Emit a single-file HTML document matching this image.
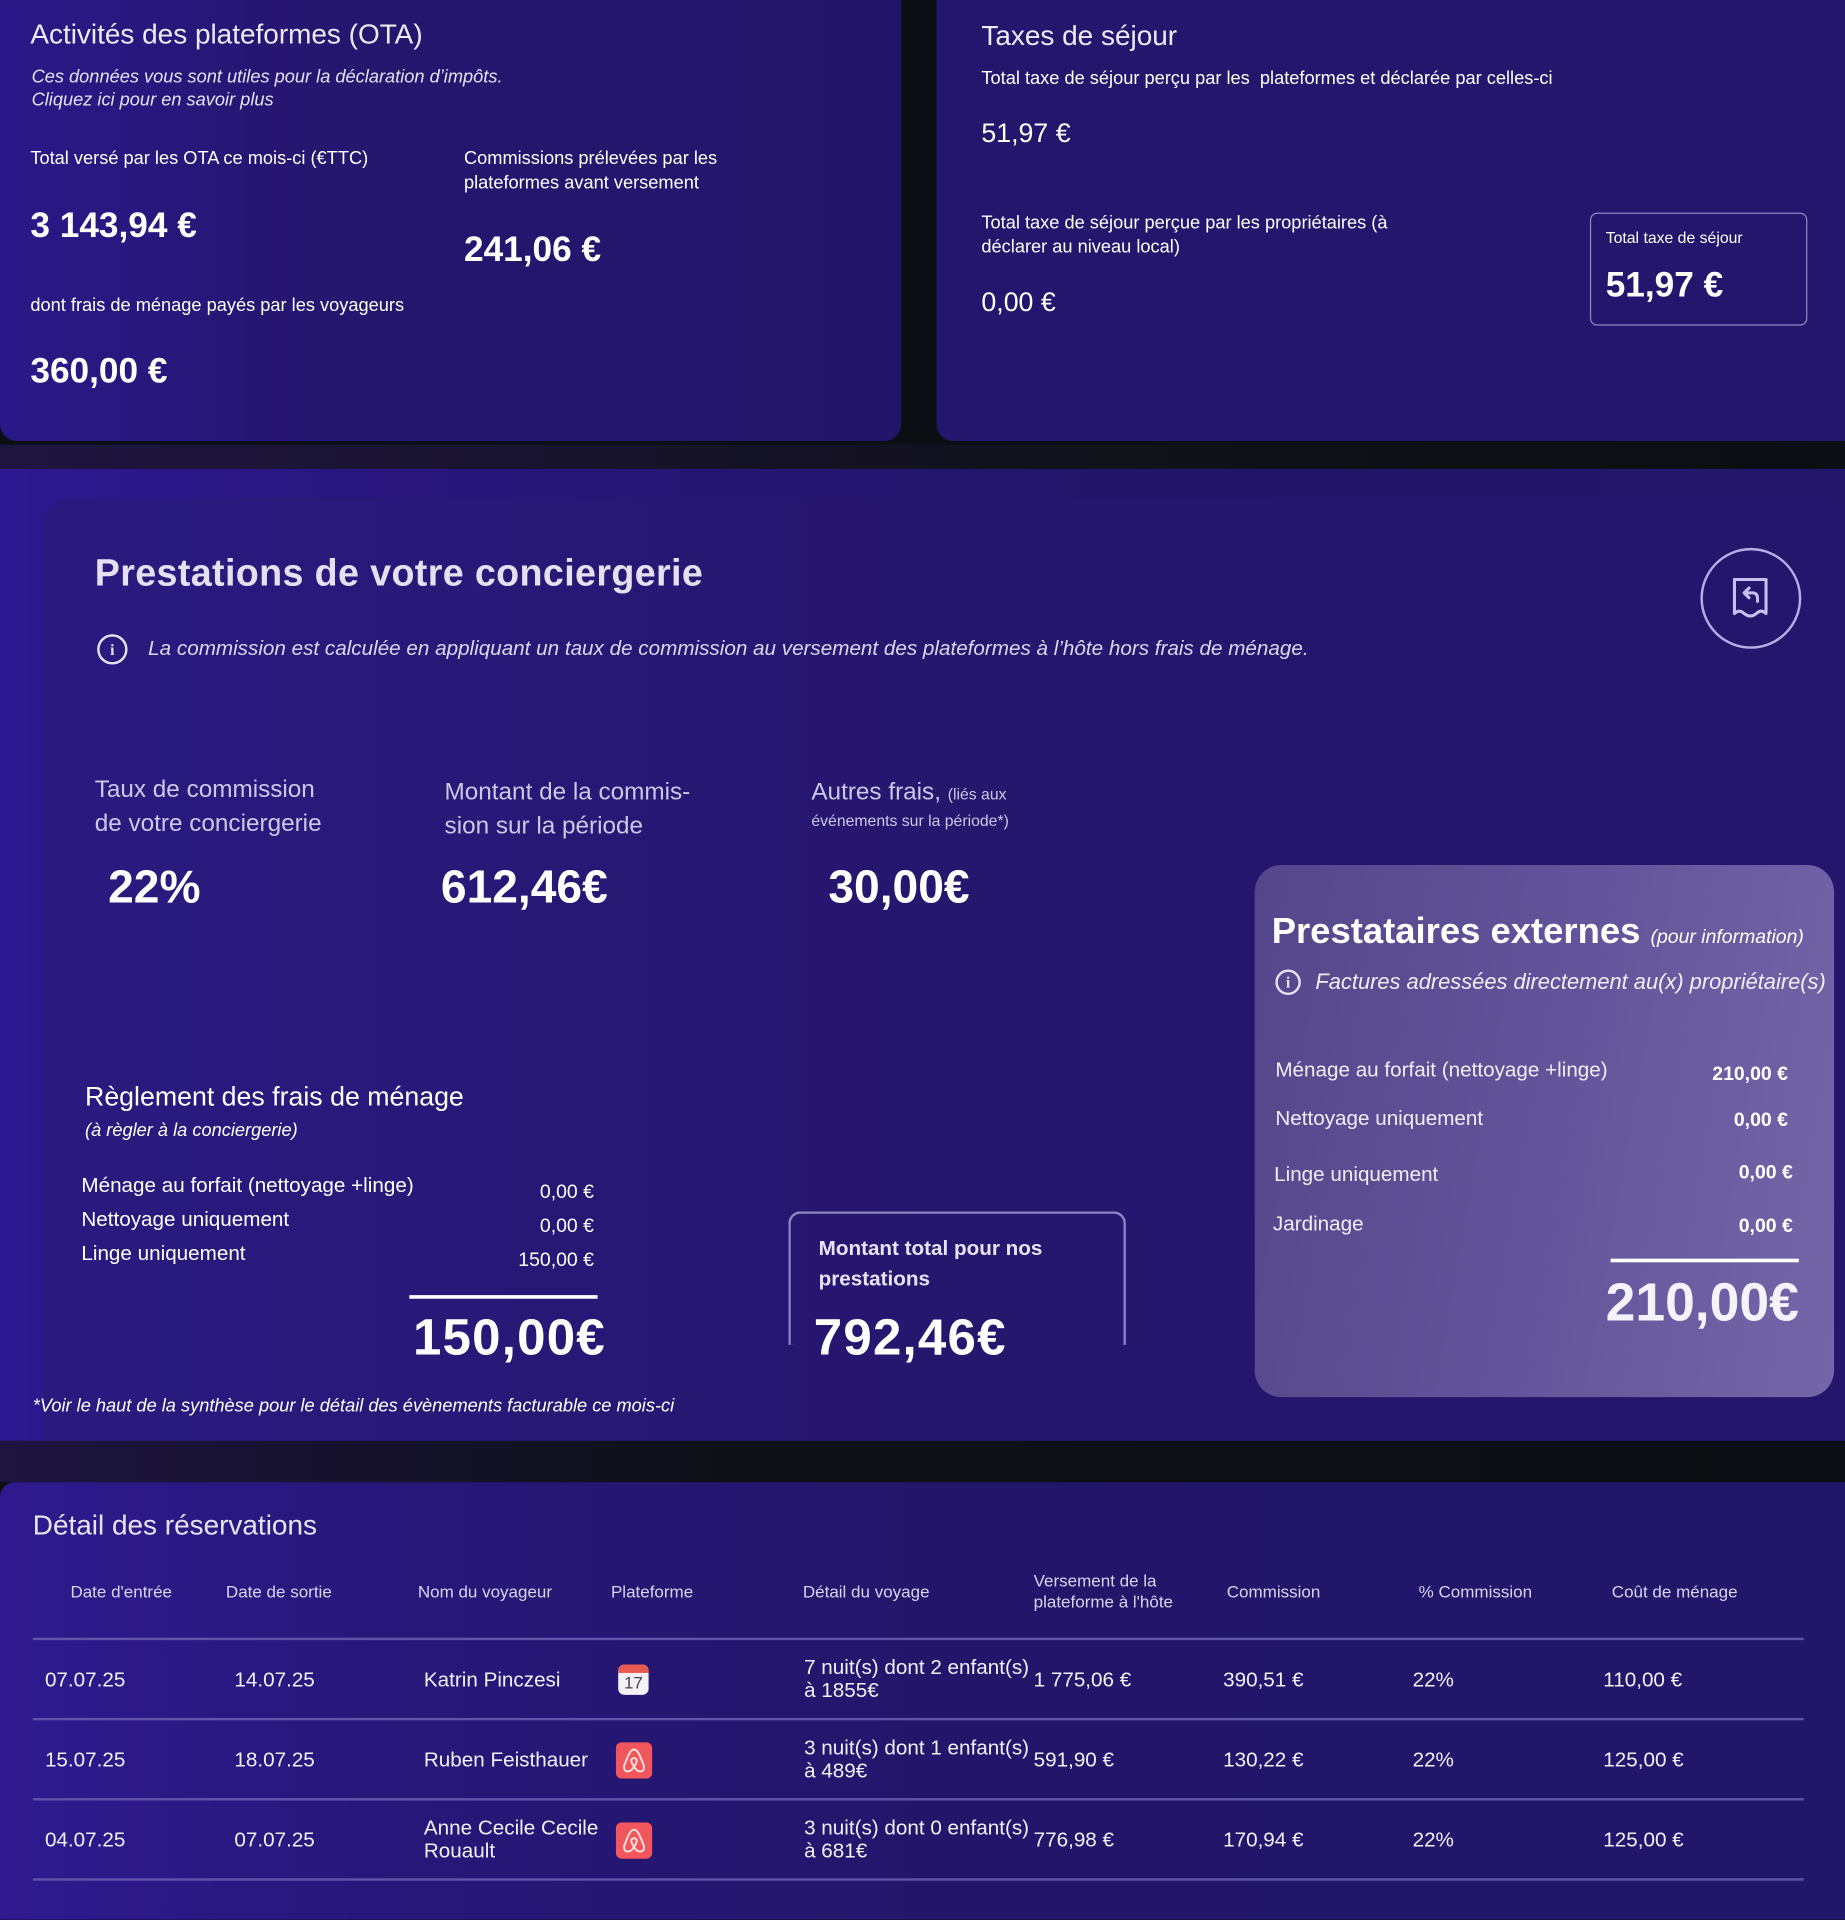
<!DOCTYPE html>
<html><head><meta charset="utf-8">
<style>
*{margin:0;padding:0;box-sizing:border-box}
html,body{width:1845px;height:1905px;overflow:hidden;background:#0b0e12}
#w{position:absolute;left:0;top:0;width:1519px;height:1568px;transform:scale(1.21461,1.21492);transform-origin:0 0;font-family:"Liberation Sans",sans-serif;color:#fff}
.a{position:absolute}
.t{position:absolute;white-space:nowrap;line-height:1}
.c{background:linear-gradient(90deg,#2a1888 0%,#25166f 35%,#23166a 100%)}
.i{font-style:italic}
.b{font-weight:bold}
.r{text-align:right}
.ic{position:absolute;border:2px solid #e8e4f6;border-radius:50%;}
.ic:after{content:"i";position:absolute;left:0;right:0;top:50%;transform:translateY(-50%);text-align:center;font-weight:bold;font-size:13px;color:#e8e4f6;font-family:"Liberation Serif",serif}
.hd{font-size:14px;color:#d8d4ee}
.rw{font-size:17px;color:#f2f0fa}
.ln{position:absolute;left:27px;width:1458px;height:2px;background:#5f54a8}
</style></head><body><div id="w">

<div class="a c" style="left:0;top:-12px;width:742px;height:375px;border-radius:14px"></div>
<div class="a" style="left:771px;top:-12px;width:760px;height:375px;border-radius:14px;background:#25166d"></div>

<div class="t" style="left:25px;top:17px;font-size:23px;color:#eeeaf8">Activités des plateformes (OTA)</div>
<div class="t i" style="left:26px;top:56px;font-size:15px;color:#e6e2f4">Ces données vous sont utiles pour la déclaration d’impôts.</div>
<div class="t i" style="left:26px;top:75px;font-size:15px;color:#e6e2f4">Cliquez ici pour en savoir plus</div>
<div class="t" style="left:25px;top:123px;font-size:15px">Total versé par les OTA ce mois-ci (€TTC)</div>
<div class="t b" style="left:25px;top:172px;font-size:29px">3 143,94 €</div>
<div class="t" style="left:382px;top:123px;font-size:15px">Commissions prélevées par les</div>
<div class="t" style="left:382px;top:143px;font-size:15px">plateformes avant versement</div>
<div class="t b" style="left:382px;top:192px;font-size:29px">241,06 €</div>
<div class="t" style="left:25px;top:244px;font-size:15px">dont frais de ménage payés par les voyageurs</div>
<div class="t b" style="left:25px;top:292px;font-size:29px">360,00 €</div>

<div class="t" style="left:808px;top:18px;font-size:23px;color:#eeeaf8">Taxes de séjour</div>
<div class="t" style="left:808px;top:57px;font-size:15px">Total taxe de séjour perçu par les &nbsp;plateformes et déclarée par celles-ci</div>
<div class="t" style="left:808px;top:99px;font-size:22px">51,97 €</div>
<div class="t" style="left:808px;top:176px;font-size:15px">Total taxe de séjour perçue par les propriétaires (à</div>
<div class="t" style="left:808px;top:196px;font-size:15px">déclarer au niveau local)</div>
<div class="t" style="left:808px;top:238px;font-size:22px">0,00 €</div>
<div class="a" style="left:1309px;top:175px;width:179px;height:93px;border:1px solid #8f86c6;border-radius:6px"></div>
<div class="t" style="left:1322px;top:189px;font-size:13px">Total taxe de séjour</div>
<div class="t b" style="left:1322px;top:221px;font-size:29px">51,97 €</div>

<div class="a" style="left:0;top:366px;width:1519px;height:20px;background:linear-gradient(90deg,#1e1440 0%,#11121a 60%,#0b0e12 100%)"></div>
<div class="a" style="left:0;top:386px;width:1519px;height:800px;background:linear-gradient(90deg,#2c1890 0%,#27167a 25%,#23166a 60%,#23166b 100%)"></div>
<div class="a" style="left:35px;top:410px;width:1484px;height:776px;border-radius:22px 22px 0 0;background:linear-gradient(90deg,#2a1a80,#25166e 50%,#24166c)"></div>

<div class="t" style="left:78px;top:456px;font-size:31px;font-weight:bold;color:#e4e0f0;letter-spacing:0.3px">Prestations de votre conciergerie</div>
<div class="ic" style="left:80px;top:522px;width:25px;height:25px"></div>
<div class="t i" style="left:122px;top:525px;font-size:17px;color:#dcd8f0">La commission est calculée en appliquant un taux de commission au versement des plateformes à l’hôte hors frais de ménage.</div>

<div class="a" style="left:1400px;top:451px;width:83px;height:83px;border:2px solid #b7aee6;border-radius:50%"></div>
<svg class="a" style="left:1424px;top:474px" width="34" height="36" viewBox="0 0 34 36"><path d="M4 3 H30 V31 Q26 27 22 31 Q17 35 12 31 Q8 27 4 31 Z" fill="none" stroke="#c8c0f0" stroke-width="2.5" stroke-linejoin="round"/><path d="M12 14 L16 10 M12 14 L16 18 M12 14 H19 Q23 14 23 19 V21" fill="none" stroke="#c8c0f0" stroke-width="2.5" stroke-linecap="round"/></svg>

<div class="t" style="left:78px;top:640px;font-size:20px;color:#cdc8e8">Taux de commission</div>
<div class="t" style="left:78px;top:668px;font-size:20px;color:#cdc8e8">de votre conciergerie</div>
<div class="t b" style="left:89px;top:712px;font-size:38px">22%</div>
<div class="t" style="left:366px;top:642px;font-size:20px;color:#cdc8e8">Montant de la commis-</div>
<div class="t" style="left:366px;top:670px;font-size:20px;color:#cdc8e8">sion sur la période</div>
<div class="t b" style="left:363px;top:712px;font-size:38px">612,46€</div>
<div class="t" style="left:668px;top:642px;font-size:20px;color:#cdc8e8">Autres frais, <span style="font-size:13px">(liés aux</span></div>
<div class="t" style="left:668px;top:669px;font-size:13px;color:#cdc8e8">événements sur la période*)</div>
<div class="t b" style="left:682px;top:712px;font-size:38px">30,00€</div>

<div class="t" style="left:70px;top:892px;font-size:22px">Règlement des frais de ménage</div>
<div class="t i" style="left:70px;top:923px;font-size:15px">(à règler à la conciergerie)</div>
<div class="t" style="left:67px;top:967px;font-size:17px">Ménage au forfait (nettoyage +linge)</div>
<div class="t" style="left:67px;top:995px;font-size:17px">Nettoyage uniquement</div>
<div class="t" style="left:67px;top:1023px;font-size:17px">Linge uniquement</div>
<div class="t r" style="left:389px;width:100px;top:974px;font-size:16px">0,00 €</div>
<div class="t r" style="left:389px;width:100px;top:1002px;font-size:16px">0,00 €</div>
<div class="t r" style="left:389px;width:100px;top:1030px;font-size:16px">150,00 €</div>
<div class="a" style="left:337px;top:1066px;width:155px;height:3px;background:#fff"></div>
<div class="t b" style="left:340px;top:1080px;font-size:42px;letter-spacing:1px">150,00€</div>

<div class="a" style="left:649px;top:997px;width:278px;height:110px;border:2px solid #8f86c6;border-bottom:none;border-radius:10px 10px 0 0"></div>
<div class="t b" style="left:674px;top:1019px;font-size:17px;color:#e8e4f6">Montant total pour nos</div>
<div class="t b" style="left:674px;top:1044px;font-size:17px;color:#e8e4f6">prestations</div>
<div class="t b" style="left:670px;top:1080px;font-size:42px;letter-spacing:1px">792,46€</div>

<div class="t i" style="left:27px;top:1150px;font-size:15px">*Voir le haut de la synthèse pour le détail des évènements facturable ce mois-ci</div>

<div class="a" style="left:1033px;top:712px;width:477px;height:438px;border-radius:22px;background:linear-gradient(100deg,#54468a 0%,#62549a 50%,#7366a8 100%)"></div>
<div class="t b" style="left:1047px;top:752px;font-size:30px">Prestataires externes <span class="i" style="font-weight:normal;font-size:16px">(pour information)</span></div>
<div class="ic" style="left:1050px;top:798px;width:21px;height:21px"></div>
<div class="t i" style="left:1083px;top:799px;font-size:18px;color:#f0eef8">Factures adressées directement au(x) propriétaire(s)</div>
<div class="t" style="left:1050px;top:872px;font-size:17px;color:#f0eef8">Ménage au forfait (nettoyage +linge)</div>
<div class="t" style="left:1050px;top:912px;font-size:17px;color:#f0eef8">Nettoyage uniquement</div>
<div class="t" style="left:1049px;top:958px;font-size:17px;color:#f0eef8">Linge uniquement</div>
<div class="t" style="left:1048px;top:999px;font-size:17px;color:#f0eef8">Jardinage</div>
<div class="t r b" style="left:1372px;width:100px;top:877px;font-size:16px;font-weight:600">210,00 €</div>
<div class="t r b" style="left:1372px;width:100px;top:915px;font-size:16px">0,00 €</div>
<div class="t r b" style="left:1376px;width:100px;top:958px;font-size:16px">0,00 €</div>
<div class="t r b" style="left:1376px;width:100px;top:1002px;font-size:16px">0,00 €</div>
<div class="a" style="left:1326px;top:1036px;width:155px;height:3px;background:#fff"></div>
<div class="t r" style="left:1281px;width:200px;top:1051px;font-size:44px;font-weight:bold;color:#f4f2fa">210,00€</div>

<div class="a" style="left:0;top:1186px;width:1519px;height:34px;background:linear-gradient(90deg,#1d1440 0%,#0e1016 40%,#0b0e12 100%)"></div>
<div class="a" style="left:0;top:1220px;width:1530px;height:360px;border-radius:12px 12px 0 0;background:linear-gradient(90deg,#2e1a8e 0%,#27177a 20%,#23166a 50%,#22166a 100%)"></div>
<div class="t" style="left:27px;top:1244px;font-size:23px;color:#e8e4f4">Détail des réservations</div>

<div class="t hd" style="left:58px;top:1303px">Date d'entrée</div>
<div class="t hd" style="left:186px;top:1303px">Date de sortie</div>
<div class="t hd" style="left:344px;top:1303px">Nom du voyageur</div>
<div class="t hd" style="left:503px;top:1303px">Plateforme</div>
<div class="t hd" style="left:661px;top:1303px">Détail du voyage</div>
<div class="t hd" style="left:851px;top:1294px">Versement de la</div>
<div class="t hd" style="left:851px;top:1311px">plateforme à l'hôte</div>
<div class="t hd" style="left:1010px;top:1303px">Commission</div>
<div class="t hd" style="left:1168px;top:1303px">% Commission</div>
<div class="t hd" style="left:1327px;top:1303px">Coût de ménage</div>

<div class="ln" style="top:1348px"></div>
<div class="ln" style="top:1414px"></div>
<div class="ln" style="top:1480px"></div>
<div class="ln" style="top:1546px"></div>

<div class="t rw" style="left:37px;top:1374px">07.07.25</div>
<div class="t rw" style="left:193px;top:1374px">14.07.25</div>
<div class="t rw" style="left:349px;top:1374px">Katrin Pinczesi</div>
<div class="a" style="left:509px;top:1370px;width:25px;height:25px;border-radius:5px;background:#f4f2f6;overflow:hidden"><div style="height:7px;background:#e85a4f"></div><div style="font-size:14px;color:#444;text-align:center;line-height:17px">17</div></div>
<div class="t rw" style="left:662px;top:1364px">7 nuit(s) dont 2 enfant(s)</div>
<div class="t rw" style="left:662px;top:1383px">à 1855€</div>
<div class="t rw" style="left:851px;top:1374px">1 775,06 €</div>
<div class="t rw" style="left:1007px;top:1374px">390,51 €</div>
<div class="t rw" style="left:1163px;top:1374px">22%</div>
<div class="t rw" style="left:1320px;top:1374px">110,00 €</div>

<div class="t rw" style="left:37px;top:1440px">15.07.25</div>
<div class="t rw" style="left:193px;top:1440px">18.07.25</div>
<div class="t rw" style="left:349px;top:1440px">Ruben Feisthauer</div>
<svg class="a" style="left:507px;top:1434px" width="30" height="30" viewBox="0 0 30 30"><rect width="30" height="30" rx="5" fill="#f0565c"/><path d="M15 6 Q12 6 9 14 L7 19 Q6 24 10 24 Q13 24 15 20 Q17 24 20 24 Q24 24 23 19 L21 14 Q18 6 15 6 Z M15 20 Q12 16 13 14 Q15 12 17 14 Q18 16 15 20 Z" fill="none" stroke="#fde0dc" stroke-width="1.6"/></svg>
<div class="t rw" style="left:662px;top:1430px">3 nuit(s) dont 1 enfant(s)</div>
<div class="t rw" style="left:662px;top:1449px">à 489€</div>
<div class="t rw" style="left:851px;top:1440px">591,90 €</div>
<div class="t rw" style="left:1007px;top:1440px">130,22 €</div>
<div class="t rw" style="left:1163px;top:1440px">22%</div>
<div class="t rw" style="left:1320px;top:1440px">125,00 €</div>

<div class="t rw" style="left:37px;top:1506px">04.07.25</div>
<div class="t rw" style="left:193px;top:1506px">07.07.25</div>
<div class="t rw" style="left:349px;top:1496px">Anne Cecile Cecile</div>
<div class="t rw" style="left:349px;top:1515px">Rouault</div>
<svg class="a" style="left:507px;top:1500px" width="30" height="30" viewBox="0 0 30 30"><rect width="30" height="30" rx="5" fill="#f0565c"/><path d="M15 6 Q12 6 9 14 L7 19 Q6 24 10 24 Q13 24 15 20 Q17 24 20 24 Q24 24 23 19 L21 14 Q18 6 15 6 Z M15 20 Q12 16 13 14 Q15 12 17 14 Q18 16 15 20 Z" fill="none" stroke="#fde0dc" stroke-width="1.6"/></svg>
<div class="t rw" style="left:662px;top:1496px">3 nuit(s) dont 0 enfant(s)</div>
<div class="t rw" style="left:662px;top:1515px">à 681€</div>
<div class="t rw" style="left:851px;top:1506px">776,98 €</div>
<div class="t rw" style="left:1007px;top:1506px">170,94 €</div>
<div class="t rw" style="left:1163px;top:1506px">22%</div>
<div class="t rw" style="left:1320px;top:1506px">125,00 €</div>

</div></body></html>
